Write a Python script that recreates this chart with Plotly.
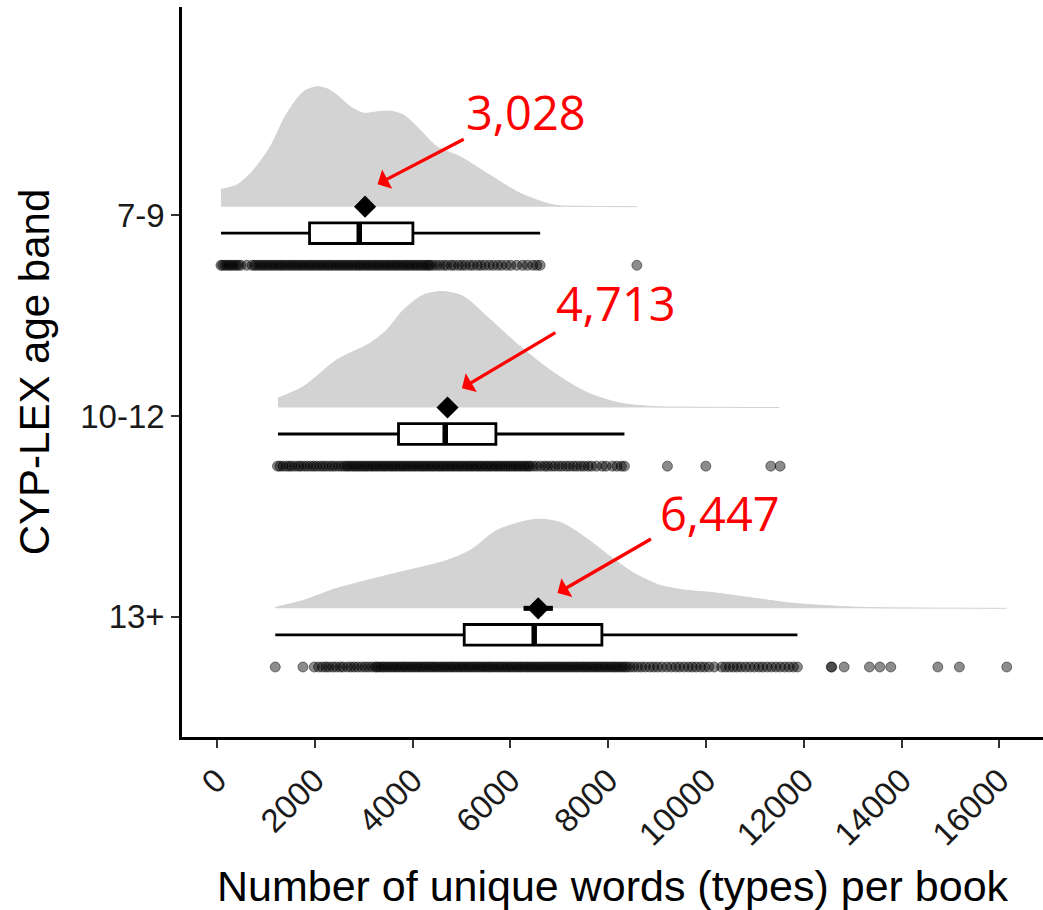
import plotly.graph_objects as go

# ---------------- data ----------------
age_bands = ["7-9", "10-12", "13+"]
band_pos = [3, 2, 1]
x_ticks = [0, 2000, 4000, 6000, 8000, 10000, 12000, 14000, 16000]
x_tick_labels = ["0", "2000", "4000", "6000", "8000", "10000", "12000", "14000", "16000"]

# box statistics (unique word types per book)
box_q1 = [1895, 3714, 5057]
box_median = [2911, 4669, 6488]
box_q3 = [4008, 5705, 7872]
box_low = [84, 1249, 1194]
box_high = [6610, 8333, 11870]

# means (diamond) and their standard error bars
mean_vals = [3030, 4716, 6570]
mean_se = [90, 90, 300]
mean_labels = ["3,028", "4,713", "6,447"]

# density curves (x, relative height)
dens_x_79 = [84, 411, 750, 1092, 1433, 1772, 2046, 2250, 2455, 2728, 3000, 3300, 3550, 3816,
             4090, 4499, 4975, 5521, 6202, 6882, 7600, 8587]
dens_h_79 = [17.4, 21.7, 36.7, 60, 93.4, 115, 120, 118, 111.7, 100, 93.5, 95, 95.5, 91.7,
             80, 60, 50, 33.4, 13.4, 1.7, 0.3, 0]
dens_x_1012 = [1249, 1772, 2455, 3135, 3477, 3816, 4225, 4634, 5043, 5521, 6202, 6882, 7565,
               8245, 8926, 10000, 11502]
dens_h_1012 = [9.4, 21, 47.7, 64.4, 77.7, 97.7, 112.7, 116, 111, 91, 61, 35, 15,
               4.4, 1, 0.2, 0]
dens_x_13 = [1194, 1772, 2455, 3477, 4703, 5180, 5725, 6508, 7019, 7500, 8041, 8500, 9063,
             9600, 10085, 11000, 11788, 13149, 14500, 16150]
dens_h_13 = [1, 8, 20, 33, 48, 58, 78, 89, 86, 72, 52, 36, 23,
             18, 16, 10, 5, 1, 0.3, 0]

# individual books (read from the strip of points)
books_79 = [84, 120, 170, 215, 260, 300, 350, 395, 440, 490, 610,
            720, 770, 815, 870, 915, 965, 1010, 1065, 1110, 1160, 1205, 1260, 1305, 1355, 1400,
            1455, 1500, 1550, 1595, 1650, 1695, 1745, 1790, 1845, 1890, 1940, 1985, 2040, 2085,
            2135, 2180, 2235, 2280, 2330, 2375, 2430, 2475, 2525, 2570, 2625, 2670, 2720, 2765,
            2820, 2865, 2915, 2960, 3015, 3060, 3110, 3155, 3210, 3255, 3305, 3350, 3405, 3450,
            3500, 3545, 3600, 3645, 3695, 3740, 3795, 3840, 3890, 3935, 3990, 4035, 4085, 4130,
            4185, 4230, 4280, 4325, 4360,
            4420, 4490, 4560, 4640, 4700, 4790, 4850, 4940, 5010, 5080, 5170, 5240, 5330, 5400,
            5480, 5570, 5650, 5740, 5820,
            5920, 6010, 6130, 6250, 6350, 6460, 6540, 6610,
            8587]
books_1012 = [1240, 1290, 1350, 1420, 1480, 1530, 1600, 1670, 1720, 1790, 1850, 1920, 1980,
              2040, 2110, 2170, 2230, 2300, 2360, 2420, 2490, 2550, 2610,
              2660, 2705, 2760, 2805, 2855, 2900, 2955, 3000, 3050, 3095, 3150, 3195, 3245, 3290,
              3345, 3390, 3440, 3485, 3540, 3585, 3635, 3680, 3735, 3780, 3830, 3875, 3930, 3975,
              4025, 4070, 4125, 4170, 4220, 4265, 4320, 4365, 4415, 4460, 4515, 4560, 4610, 4655,
              4710, 4755, 4805, 4850, 4905, 4950, 5000, 5045, 5100, 5145, 5195, 5240, 5295, 5340,
              5390, 5435, 5490, 5535, 5585, 5630, 5685, 5730, 5780, 5825, 5880, 5925, 5975, 6020,
              6075, 6120, 6170, 6215, 6270, 6315, 6365, 6406,
              6470, 6540, 6620, 6700, 6760, 6840, 6910, 6990, 7060, 7140, 7210, 7290, 7360, 7440,
              7510, 7590, 7660,
              7760, 7880, 7960, 8090, 8180, 8270, 8333,
              9212, 9997, 11326, 11516]
books_13 = [1194, 1760, 1991,
            2080, 2160, 2230, 2290, 2370, 2440, 2520, 2580, 2670, 2740, 2810, 2880, 2960, 3030,
            3100, 3170, 3240,
            3272, 3320, 3370, 3415, 3465, 3510, 3565, 3610, 3660, 3705, 3760, 3805, 3855, 3900,
            3955, 4000, 4050, 4095, 4150, 4195, 4245, 4290, 4345, 4390, 4440, 4485, 4540, 4585,
            4635, 4680, 4735, 4780, 4830, 4875, 4930, 4975, 5025, 5070, 5125, 5170, 5220, 5265,
            5320, 5365, 5415, 5460, 5515, 5560, 5610, 5655, 5710, 5755, 5805, 5850, 5905, 5950,
            6000, 6045, 6100, 6145, 6195, 6240, 6295, 6340, 6390, 6435, 6490, 6535, 6585, 6630,
            6685, 6730, 6780, 6825, 6880, 6925, 6975, 7020, 7075, 7120, 7170, 7215, 7270, 7315,
            7365, 7410, 7465, 7510, 7560, 7605, 7660, 7705, 7755, 7800, 7855, 7900, 7950, 7995,
            8050, 8095, 8145, 8190, 8245, 8290, 8340, 8385, 8450,
            8520, 8600, 8680, 8760, 8850, 8930, 9010, 9100, 9200, 9290, 9380, 9460, 9550, 9640,
            9720, 9800, 9890, 9970, 10060, 10170, 10320, 10400, 10480, 10560, 10640, 10720,
            10810, 10900, 10990, 11080, 11160, 11250, 11340, 11430, 11520, 11610, 11700, 11790,
            11870,
            12560, 12573, 12825, 13342, 13556, 13779, 14740, 15181, 16150]

densities = [(dens_x_79, dens_h_79), (dens_x_1012, dens_h_1012), (dens_x_13, dens_h_13)]
books = [books_79, books_1012, books_13]

# ---------------- layout constants ----------------
DENS_SCALE = 1 / 201.0     # density height units -> band units
DENS_OFF = 0.042           # density baseline offset above band
BOX_OFF = -0.09            # box centre offset
BOX_W = 0.103
PTS_OFF = -0.25            # strip offset

AXIS_FONT = "Liberation Sans, Arial, sans-serif"

fig = go.Figure()

# densities (half-violins)
for (dx, dh), pos in zip(densities, band_pos):
    base = pos + DENS_OFF
    fig.add_trace(go.Scatter(x=[dx[0], dx[-1]], y=[base, base], mode="lines",
                             line=dict(width=0, color="rgba(0,0,0,0)"),
                             hoverinfo="skip", showlegend=False))
    fig.add_trace(go.Scatter(x=dx, y=[base + h * DENS_SCALE for h in dh], mode="lines",
                             line=dict(width=1, color="#d2d2d2", shape="spline", smoothing=0.8),
                             fill="tonexty", fillcolor="#d3d3d3",
                             hoverinfo="skip", showlegend=False))

# boxplots
box_y = [p + BOX_OFF for p in band_pos]
fig.add_trace(go.Box(y=box_y, q1=box_q1, median=box_median, q3=box_q3,
                     lowerfence=box_low, upperfence=box_high, orientation="h",
                     width=BOX_W, whiskerwidth=0, fillcolor="white",
                     line=dict(color="black", width=2.8), boxpoints=False,
                     showlegend=False, hoverinfo="skip"))
# thick median segments
med_x, med_y = [], []
for m, y in zip(box_median, box_y):
    med_x += [m, m, None]
    med_y += [y - BOX_W / 2, y + BOX_W / 2, None]
fig.add_trace(go.Scatter(x=med_x, y=med_y, mode="lines",
                         line=dict(color="black", width=5.5),
                         hoverinfo="skip", showlegend=False))

# points
for vals, pos in zip(books, band_pos):
    fig.add_trace(go.Scatter(x=vals, y=[pos + PTS_OFF] * len(vals), mode="markers",
                             marker=dict(size=10, color="rgba(0,0,0,0.45)",
                                         line=dict(width=1, color="rgba(0,0,0,0.45)")),
                             hoverinfo="skip", showlegend=False))

# means with SE bar
fig.add_trace(go.Scatter(x=mean_vals, y=[p + DENS_OFF for p in band_pos], mode="markers",
                         marker=dict(symbol="diamond", size=17, color="black"),
                         error_x=dict(type="data", array=mean_se, thickness=5, width=0,
                                      color="black"),
                         hoverinfo="skip", showlegend=False))

# annotations: mean labels with arrows
label_pos = [(5057, 3.512), (6896, 2.563), (9016, 1.5175)]
arrow_tip = [(3285, 3.154), (5010, 2.1378), (6964, 1.1179)]
arrow_tail = [(5077, 3.3816), (6952, 2.4194), (8906, 1.3915)]
for lab, (lx, ly), (tx, ty), (sx, sy) in zip(mean_labels, label_pos, arrow_tip, arrow_tail):
    fig.add_annotation(x=lx, y=ly, xref="x", yref="y", text=lab, showarrow=False,
                       xanchor="left", yanchor="middle",
                       font=dict(family="Open Sans", size=47, color="#ff0000"))
    fig.add_annotation(x=tx, y=ty, ax=sx, ay=sy, xref="x", yref="y", axref="x", ayref="y",
                       text="", showarrow=True, arrowhead=1, arrowsize=1.1,
                       arrowwidth=3.3, arrowcolor="#ff0000", standoff=0)

fig.update_layout(
    width=1043, height=910,
    margin=dict(l=182, r=0, t=7, b=173),
    paper_bgcolor="white", plot_bgcolor="white",
    showlegend=False,
    boxmode="overlay",
    xaxis=dict(range=[-713, 16891], tickvals=x_ticks, ticktext=x_tick_labels,
               tickangle=-45, ticks="outside", ticklen=8, tickwidth=2, tickcolor="#333333",
               showline=True, linecolor="black", linewidth=2.5, showgrid=False, zeroline=False,
               tickfont=dict(family=AXIS_FONT, size=33, color="#1a1a1a"),
               title=dict(text="Number of unique words (types) per book",
                          font=dict(family=AXIS_FONT, size=43, color="black"), standoff=26),
               automargin=False),
    yaxis=dict(range=[0.4015, 4.036], tickvals=band_pos, ticktext=age_bands,
               ticks="outside", ticklen=8, tickwidth=2, tickcolor="#333333",
               showline=True, linecolor="black", linewidth=2.5, showgrid=False, zeroline=False,
               tickfont=dict(family=AXIS_FONT, size=33, color="#1a1a1a"),
               title=dict(text="CYP-LEX age band",
                          font=dict(family=AXIS_FONT, size=42, color="black"), standoff=18),
               automargin=False),
)

fig.write_html("out.html")
